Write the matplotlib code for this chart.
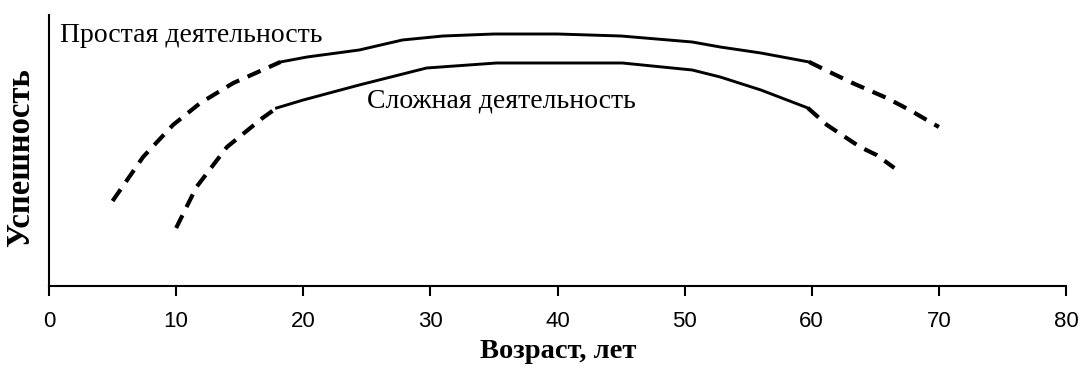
import matplotlib.pyplot as plt
import numpy as np

# Простая деятельность (upper curve)
simple_x = [5, 7.4, 9.75, 11.9, 14.5, 18.2, 20.3, 24.4, 27.8, 31, 35, 40, 45, 50.6, 52.8, 56, 59.8, 61.4, 63.2, 65.9, 67.7, 70]
simple_y = [85, 129, 161, 183, 203, 224, 229, 236, 246, 250, 252, 252, 250, 244, 239, 233, 224, 214, 203, 188, 176, 159]
simple_solid = (5, 16)  # index range of the solid part

# Сложная деятельность (lower curve)
complex_x = [10, 11.6, 14, 16.8, 17.9, 20, 24.4, 29.7, 35.2, 40, 45.1, 50.6, 52.8, 56, 59.7, 61.2, 63.8, 65.1, 66.5]
complex_y = [58, 99, 139, 168, 178, 186, 201, 218, 223, 223, 223, 216, 209, 196, 178, 161, 139, 131, 118]
complex_solid = (4, 14)

xticks = [0, 10, 20, 30, 40, 50, 60, 70, 80]

serif = ['Liberation Serif', 'DejaVu Serif']

fig = plt.figure(figsize=(10.86, 3.69), dpi=100)
ax = fig.add_axes([49 / 1086, 1 - 286 / 369, (1066 - 49) / 1086, (286 - 15) / 369])


def draw(xs, ys, solid):
    a, b = solid
    ax.plot(xs[:a + 1], ys[:a + 1], color='black', lw=3, ls=(0, (3.4, 2.2)))
    ax.plot(xs[a:b + 1], ys[a:b + 1], color='black', lw=2.1)
    ax.plot(xs[b:], ys[b:], color='black', lw=3, ls=(0, (3.4, 2.2)))


draw(simple_x, simple_y, simple_solid)
draw(complex_x, complex_y, complex_solid)

ax.set_xlim(0, 80)
ax.set_ylim(0, 271)
ax.set_xticks(xticks)
ax.set_yticks([])
ax.tick_params(axis='x', direction='out', length=7, width=1.5, labelsize=16, pad=11)
for lab in ax.get_xticklabels():
    lab.set_family(['Liberation Sans', 'DejaVu Sans'])
for s in ['top', 'right']:
    ax.spines[s].set_visible(False)
for s in ['left', 'bottom']:
    ax.spines[s].set_linewidth(1.5)

ax.text(60 / 1086, 1 - 35 / 369, 'Простая деятельность', transform=fig.transFigure,
        family=serif, fontsize=20, va='center', ha='left')
ax.text(367 / 1086, 1 - 101 / 369, 'Сложная деятельность', transform=fig.transFigure,
        family=serif, fontsize=20, va='center', ha='left')

fig.text(558 / 1086, 1 - 351 / 369, 'Возраст, лет', family=serif, fontsize=20.5,
         fontweight='bold', ha='center', va='center')
fig.text(21 / 1086, 1 - 158 / 369, 'Успешность', family=serif, fontsize=23.5,
         fontweight='bold', ha='center', va='center', rotation=90)

fig.savefig('out.png', dpi=100, facecolor='white')
